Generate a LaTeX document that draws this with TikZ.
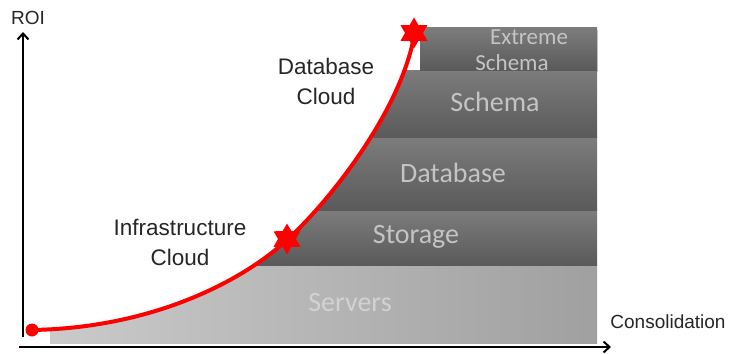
\documentclass[tikz,border=0pt]{standalone}
\usepackage{fontspec}
\setmainfont{Liberation Sans}
\newfontfamily\bandfont{Carlito}
\usetikzlibrary{arrows.meta, shapes.geometric, shadows}

\definecolor{bandtop}{HTML}{7C7C7C}
\definecolor{bandbot}{HTML}{5A5A5A}
\definecolor{bandtext}{HTML}{C4C4C4}
\definecolor{srvleft}{HTML}{CACACA}
\definecolor{srvright}{HTML}{A0A0A0}
\definecolor{srvtext}{HTML}{D2D2D2}

\begin{document}
\begin{tikzpicture}[x=1bp, y=1bp,
    band/.style={top color=bandtop, bottom color=bandbot},
    bandlabel/.style={font=\bandfont\fontsize{28bp}{30bp}\selectfont, text=bandtext},
    smalllabel/.style={font=\bandfont\fontsize{23bp}{25bp}\selectfont, text=bandtext},
    cloudlabel/.style={font=\fontsize{22.5bp}{30bp}\selectfont, align=center, text=black!85},
    axislabel/.style={font=\fontsize{19bp}{22bp}\selectfont, text=black!85},
    axis/.style={line width=2bp, -{Straight Barb[length=6bp, width=11bp]}},
    marker/.style={star, star points=6, star point ratio=1.73, minimum size=31bp, inner sep=0pt, fill=red}]
    \useasboundingbox (0,0) rectangle (732,353);

    % Stack, cut off by the curve
    \begin{scope}
        \clip (32,23) .. controls (150,25) and (240,70) .. (287,113)
            .. controls (335,157) and (405,250) .. (415,323)
            -- (600,323) -- (600,0) -- (32,0) -- cycle;
        \fill[left color=srvleft, right color=srvright] (50,10) rectangle (597,88);
        \foreach \lo/\hi in {88/143, 143/216, 216/283}
            \fill[band] (0,\lo) rectangle (597,\hi);
    \end{scope}
    \path[band, drop shadow={shadow xshift=1bp, shadow yshift=-2bp, opacity=0.4}] (420,283) rectangle (597,325);

    % Band labels
    \node[bandlabel, text=srvtext] (servers) at (350,50) {Servers};
    \node[bandlabel] (storage) at (416,116) {Storage};
    \node[bandlabel] (database) at (453,180) {Database};
    \node[bandlabel] (schema) at (495,251) {Schema};
    \node[smalllabel] (extreme) at (529,316) {Extreme};
    \node[smalllabel] (xschema) at (512,290) {Schema};

    % Curve
    \draw[red, line width=4bp] (32,23) .. controls (150,25) and (240,70) .. (287,113)
        .. controls (335,157) and (405,250) .. (415,323);
    \node[circle, fill=red, minimum size=13bp, inner sep=0pt] (start) at (32,23) {};
    \node[marker] (infra) at (287,114) {};
    \node[marker] (dbcloud) at (414,320) {};

    % Axes
    \coordinate (xstart) at (19,6);
    \coordinate (xend) at (611,6);
    \coordinate (ystart) at (23,16);
    \coordinate (yend) at (23,321);
    \draw[axis] (xstart) -- (xend);
    \draw[axis] (ystart) -- (yend);

    % Labels
    \node[axislabel] (roi) at (28,335) {ROI};
    \node[axislabel] (consol) at (668,31) {Consolidation};
    \node[cloudlabel] (dblabel) at (326,272) {Database\\Cloud};
    \node[cloudlabel] (infralabel) at (180,111) {Infrastructure\\Cloud};
\end{tikzpicture}
\end{document}
